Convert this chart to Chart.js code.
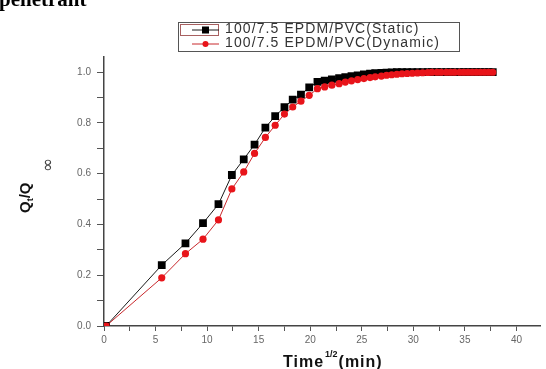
<!DOCTYPE html>
<html>
<head>
<meta charset="utf-8">
<script src="https://cdn.jsdelivr.net/npm/chart.js@4/dist/chart.umd.min.js"></script>
<style>
  body { margin: 0; background: #fff; }
  #wrap { position: relative; width: 546px; height: 369px; overflow: hidden; }
</style>
</head>
<body>
<div id="wrap"><canvas id="sorptionChart" width="546" height="369"></canvas></div>
<script>
// -----------------------------
// DATA
// -----------------------------
const sqrtTime = [0.2, 5.6, 7.9, 9.6, 11.1, 12.4, 13.55, 14.6, 15.65, 16.6,
    17.5, 18.3, 19.1, 19.9, 20.7, 21.4, 22.1, 22.8, 23.4, 24.0,
    24.6, 25.2, 25.8, 26.3, 26.9, 27.4, 27.9, 28.4, 28.9, 29.4,
    29.9, 30.4, 30.9, 31.4, 31.8, 32.3, 32.7, 33.2, 33.6, 34.0,
    34.5, 34.9, 35.3, 35.7, 36.1, 36.5, 36.9, 37.3, 37.7];

const staticQ = [0, 0.24, 0.326, 0.405, 0.48, 0.595, 0.657, 0.715, 0.782, 0.827,
    0.862, 0.892, 0.912, 0.94, 0.962, 0.967, 0.972, 0.977, 0.981, 0.985,
    0.988, 0.991, 0.994, 0.996, 0.997, 0.998, 0.999, 1.0, 1.0, 1.0,
    1.0, 1.0, 1.0, 1.0, 1.0, 1.0, 1.0, 1.0, 1.0, 1.0,
    1.0, 1.0, 1.0, 1.0, 1.0, 1.0, 1.0, 1.0, 1.0];

const dynamicQ = [0, 0.19, 0.285, 0.342, 0.418, 0.54, 0.607, 0.68, 0.743, 0.791,
    0.835, 0.863, 0.886, 0.909, 0.935, 0.942, 0.949, 0.955, 0.961, 0.966,
    0.971, 0.975, 0.979, 0.982, 0.985, 0.988, 0.99, 0.992, 0.994, 0.995,
    0.996, 0.997, 0.998, 0.999, 1.0, 1.0, 1.0, 1.0, 1.0, 1.0,
    1.0, 1.0, 1.0, 1.0, 1.0, 1.0, 1.0, 1.0, 1.0];

const seriesNames = ['100/7.5 EPDM/PVC(Static)', '100/7.5 EPDM/PVC(Dynamic)'];
const xTickLabels = ['0', '5', '10', '15', '20', '25', '30', '35', '40'];
const yTickLabels = ['0.0', '0.2', '0.4', '0.6', '0.8', '1.0'];

const toPoints = ys => ys.map((y, i) => ({ x: sqrtTime[i], y }));

// -----------------------------
// EXTRA TEXT + ORIGIN-STYLE LEGEND
// -----------------------------
const decorations = {
    id: 'decorations',
    afterDraw(chart) {
        const ctx = chart.ctx;
        ctx.save();

        // cropped heading from the page above the figure
        ctx.fillStyle = '#000';
        ctx.font = 'bold 21px "Liberation Serif"';
        ctx.textBaseline = 'alphabetic';
        ctx.fillText('penetrant', -1, 6);

        // legend box
        ctx.strokeStyle = '#555';
        ctx.lineWidth = 1;
        ctx.strokeRect(178.5, 22.5, 281, 29);
        ctx.strokeStyle = '#a86060';
        ctx.strokeRect(180.5, 24.5, 38, 11);

        const rows = [30, 44];
        chart.data.datasets.forEach((ds, i) => {
            const y = rows[i];
            ctx.strokeStyle = ds.borderColor;
            ctx.lineWidth = 1;
            ctx.beginPath();
            ctx.moveTo(192, y);
            ctx.lineTo(219, y);
            ctx.stroke();
            ctx.fillStyle = ds.pointBackgroundColor;
            if (ds.pointStyle === 'rect') {
                ctx.fillRect(202, y - 3.5, 7, 7);
            } else {
                ctx.beginPath();
                ctx.arc(205.5, y, 3, 0, Math.PI * 2);
                ctx.fill();
            }
            ctx.fillStyle = '#333';
            ctx.font = '14px "Liberation Sans"';
            ctx.letterSpacing = '1.1px';
            ctx.textBaseline = 'middle';
            ctx.fillText(ds.label, 225, y - 1);
        });
        ctx.letterSpacing = '0px';

        // x axis title: Time^(1/2)(min)
        ctx.fillStyle = '#111';
        ctx.textBaseline = 'alphabetic';
        ctx.font = 'bold 16px "Liberation Sans"';
        ctx.letterSpacing = '1px';
        ctx.fillText('Time', 283, 367);
        let w = ctx.measureText('Time').width;
        ctx.font = 'bold 9px "Liberation Sans"';
        ctx.letterSpacing = '0px';
        ctx.fillText('1/2', 283 + w + 1, 357);
        const w2 = ctx.measureText('1/2').width;
        ctx.font = 'bold 16px "Liberation Sans"';
        ctx.letterSpacing = '1px';
        ctx.fillText('(min)', 283 + w + w2 + 2, 367);
        ctx.letterSpacing = '0px';

        // y axis title: Qt/Q∞ (rotated)
        ctx.translate(30, 197);
        ctx.rotate(-Math.PI / 2);
        ctx.font = 'bold 15px "Liberation Sans"';
        ctx.textBaseline = 'alphabetic';
        ctx.fillText('Q', -16, 0);
        w = ctx.measureText('Q').width;
        ctx.font = 'bold 9px "Liberation Sans"';
        ctx.fillText('t', -16 + w, 3);
        ctx.font = 'bold 15px "Liberation Sans"';
        ctx.fillText('/Q', -16 + w + 3, 0);
        ctx.font = '17px "DejaVu Sans"';
        ctx.fillStyle = '#444';
        ctx.fillText('\u221E', 25, 23);
        ctx.restore();
    }
};

// -----------------------------
// CHART
// -----------------------------
new Chart(document.getElementById('sorptionChart'), {
    type: 'line',
    data: {
        datasets: [
            {
                label: seriesNames[0],
                data: toPoints(staticQ),
                borderColor: '#1a1a1a',
                borderWidth: 1,
                pointStyle: 'rect',
                pointRadius: 5.5,
                pointBackgroundColor: '#000',
                pointBorderColor: '#000',
                pointBorderWidth: 0,
                tension: 0,
                order: 1
            },
            {
                label: seriesNames[1],
                data: toPoints(dynamicQ),
                borderColor: '#c8282c',
                borderWidth: 1,
                pointStyle: 'circle',
                pointRadius: 3.6,
                pointBackgroundColor: '#e8141a',
                pointBorderColor: '#e8141a',
                pointBorderWidth: 0,
                tension: 0,
                order: 0
            }
        ]
    },
    options: {
        responsive: false,
        animation: false,
        layout: { padding: { top: 57, left: 0, right: 0, bottom: 0 } },
        plugins: {
            legend: { display: false },
            tooltip: { enabled: false }
        },
        scales: {
            x: {
                type: 'linear',
                min: 0,
                max: 42.33,
                afterFit(scale) { scale.height = 43; },
                ticks: {
                    stepSize: 2.5,
                    includeBounds: false,
                    maxRotation: 0,
                    autoSkip: false,
                    padding: 3,
                    color: '#666',
                    font: { family: 'Liberation Sans', size: 10 },
                    callback: v => xTickLabels[v / 5] !== undefined && v % 5 === 0 ? xTickLabels[v / 5] : ''
                },
                grid: { drawOnChartArea: false, tickLength: 5, color: '#555' },
                border: { color: '#444', width: 1.5 }
            },
            y: {
                min: 0,
                max: 1.06,
                afterFit(scale) { scale.width = 104; },
                ticks: {
                    stepSize: 0.1,
                    includeBounds: false,
                    autoSkip: false,
                    padding: 6,
                    color: '#666',
                    font: { family: 'Liberation Sans', size: 10 },
                    callback: v => {
                        const k = Math.round(v * 10);
                        return k % 2 === 0 ? yTickLabels[k / 2] : '';
                    }
                },
                grid: { drawOnChartArea: false, tickLength: 7, color: '#555' },
                border: { color: '#444', width: 1.5 }
            }
        }
    },
    plugins: [decorations]
});
</script>
</body>
</html>
